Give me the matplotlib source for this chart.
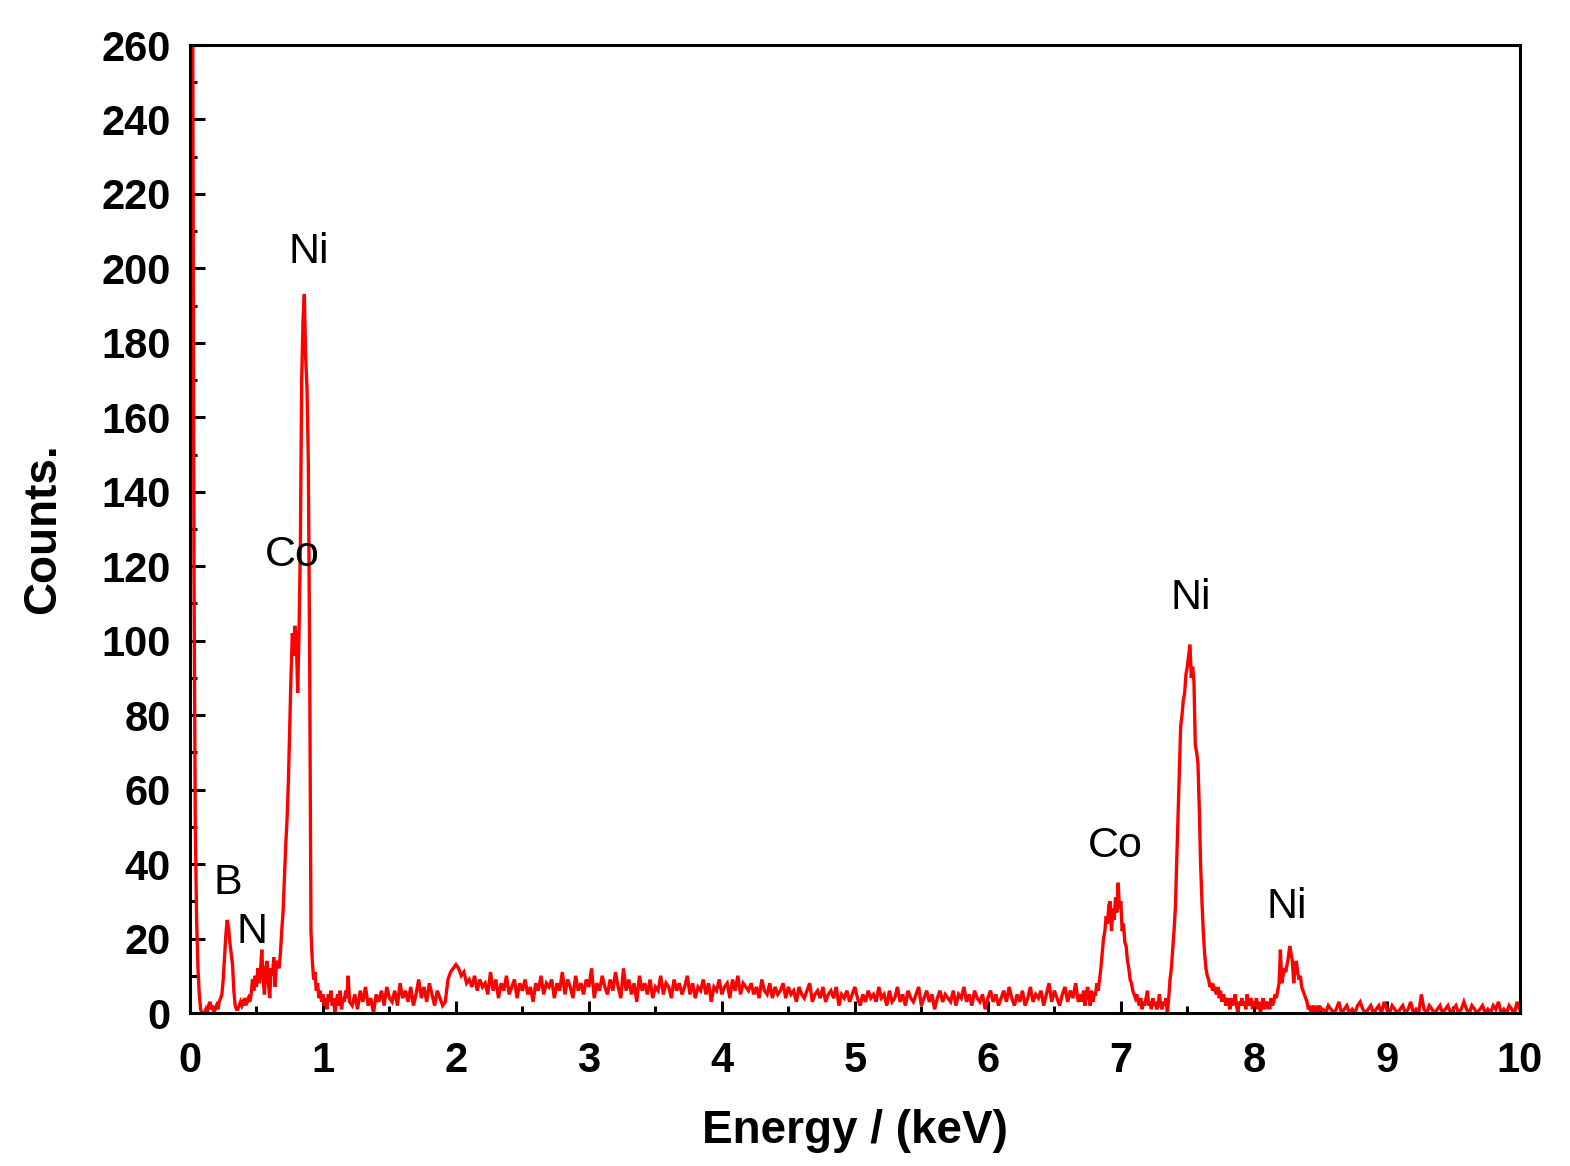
import numpy as np
import matplotlib
matplotlib.use("Agg")
import matplotlib.pyplot as plt
from matplotlib.ticker import MultipleLocator

plt.rcParams['font.family'] = ['Liberation Sans', 'DejaVu Sans']

# ---- data (energy in keV, counts) ----
# segment A: 0.00 - 1.20 keV, 0.01 keV channels
seg_a_start, seg_a_step = 0.00, 0.01
seg_a_counts = [
    300, 300, 280, 120, 50, 25, 12, 5, 1, 0,
    0, 0, 1, 0, 2, 3, 1, 2, 0, 1,
    2, 1, 3, 4, 5, 9, 15, 21, 25, 23,
    19, 16, 13, 6, 2, 1, 1, 2, 3, 2,
    3, 2, 4, 3, 4, 3, 5, 9, 6, 10,
    7, 12, 8, 11, 17, 9, 5, 12, 14, 8,
    4, 12, 10, 15, 7, 13, 14, 12, 16, 22,
    27, 36, 45, 52, 62, 76, 91, 102, 96, 104,
    100, 86, 102, 125, 170, 186, 193, 176, 168, 148,
    95, 22, 14, 9, 11, 6, 8, 4, 6, 3,
    5, 2, 4, 1, 5, 3, 6, 2, 4, 0,
    3, 5, 2, 6, 1, 4, 3, 6, 4, 10,
    3,
]
# segment B: 1.22 - 6.70 keV, 0.02 keV steps
seg_b_start, seg_b_step = 1.22, 0.02
seg_b_counts = [
    2, 5, 1, 6, 3, 7, 2, 4, 0, 5, 3, 6, 2, 7, 4, 3, 6, 2, 8, 4, 6, 3, 7, 2, 5,
    9, 4, 7, 3, 8, 5, 2, 6, 4, 2, 3, 9, 11, 12, 13, 12, 10, 11, 8, 9, 7, 10, 6, 9, 7,
    8, 5, 11, 6, 9, 4, 8, 6, 10, 5, 7, 9, 4, 8, 6, 9, 5, 7, 3, 8, 6, 10, 5, 8, 7,
    9, 4, 8, 6, 11, 5, 9, 7, 4, 10, 6, 8, 5, 9, 7, 12, 4, 8, 6, 10, 7, 5, 9, 6, 11,
    7, 4, 12, 6, 9, 5, 8, 3, 10, 6, 8, 5, 9, 4, 7, 6, 10, 5, 8, 7, 4, 9, 6, 8, 5,
    7, 10, 5, 8, 4, 7, 6, 9, 5, 8, 3, 7, 6, 9, 5, 7, 8, 4, 9, 6, 10, 5, 8, 7, 6,
    8, 5, 7, 4, 9, 6, 5, 8, 4, 7, 5, 6, 8, 4, 7, 5, 6, 3, 7, 5, 4, 6, 8, 3, 5,
    6, 4, 7, 3, 5, 6, 4, 7, 2, 5, 4, 6, 3, 5, 7, 4, 2, 5, 3, 6, 4, 5, 3, 7, 4,
    5, 2, 6, 3, 4, 7, 3, 5, 2, 6, 4, 3, 5, 7, 2, 4, 6, 3, 5, 1, 4, 6, 3, 5, 4,
    3, 6, 2, 5, 4, 7, 3, 5, 2, 6, 4, 3, 5, 1, 4, 6, 3, 5, 2, 4, 6, 3, 7, 4, 2,
    5, 3, 6, 2, 4, 7, 3, 5, 4, 6, 2, 5, 8, 3, 6, 4, 2, 5, 7, 3, 6, 4, 8, 3, 5,
]
# segment C: 6.71 - 8.50 keV, 0.01 keV channels
seg_c_start, seg_c_step = 6.71, 0.01
seg_c_counts = [
    3, 6, 2, 5, 7, 4, 2, 6, 3, 5,
    5, 8, 6, 9, 12, 16, 20, 22, 26, 24,
    29, 30, 22, 28, 25, 31, 27, 35, 28, 30,
    22, 24, 19, 18, 14, 12, 9, 8, 6, 5,
    4, 5, 3, 2, 4, 1, 3, 2, 4, 6,
    2, 3, 1, 4, 2, 3, 1, 2, 5, 2,
    1, 3, 2, 4, 0, 4, 9, 12, 17, 22,
    28, 40, 52, 65, 77, 80, 84, 86, 91, 93,
    96, 99, 90, 93, 89, 72, 70, 67, 55, 40,
    30, 22, 16, 12, 10, 9, 7, 8, 6, 7,
    6, 5, 7, 4, 6, 3, 5, 4, 2, 4,
    3, 1, 4, 2, 3, 5, 2, 0, 3, 2,
    4, 2, 3, 1, 5, 2, 3, 4, 1, 3,
    2, 4, 1, 3, 0, 2, 4, 1, 3, 2,
    3, 1, 4, 2, 3, 5, 4, 6, 8, 17,
    8, 10, 12, 11, 13, 15, 18, 16, 14, 8,
    12, 14, 11, 9, 10, 7, 6, 5, 4, 3,
    1, 2, 0, 1, 2, 0, 1, 0, 2, 1,
]
# segment D: 8.52 - 10.00 keV, 0.02 keV steps
seg_d_start, seg_d_step = 8.52, 0.02
seg_d_counts = [
    1, 0, 2, 1, 0, 1, 3, 0, 1, 2, 0, 1, 0, 2, 3, 1, 0, 1, 2, 0, 1, 2, 0, 3, 1,
    0, 2, 1, 0, 1, 2, 0, 1, 3, 0, 1, 0, 5, 1, 0, 2, 1, 0, 1, 2, 0, 1, 2, 0, 1,
    2, 0, 1, 3, 1, 0, 2, 1, 0, 1, 2, 0, 1, 0, 2, 1, 3, 0, 1, 0, 2, 1, 0, 3, 1,
]

# peak labels
peak_labels = ["B", "N", "Co", "Ni", "Co", "Ni", "Ni"]
peak_label_x = [0.286, 0.466, 0.767, 0.895, 6.955, 7.526, 8.248]
peak_label_y = [35, 21.8, 123, 204.4, 44.9, 111.5, 28.5]

x_ticks = [0, 1, 2, 3, 4, 5, 6, 7, 8, 9, 10]
y_ticks = [0, 20, 40, 60, 80, 100, 120, 140, 160, 180, 200, 220, 240, 260]


def seg(start, step, counts):
    e = start + step * np.arange(len(counts))
    return e, np.asarray(counts, dtype=float)


segs = [seg(seg_a_start, seg_a_step, seg_a_counts),
        seg(seg_b_start, seg_b_step, seg_b_counts),
        seg(seg_c_start, seg_c_step, seg_c_counts),
        seg(seg_d_start, seg_d_step, seg_d_counts)]
energy = np.concatenate([s[0] for s in segs])
counts = np.concatenate([s[1] for s in segs])

fig = plt.figure(figsize=(15.7, 11.66), dpi=100)
ax = fig.add_axes([0.121, 0.1312, 0.847, 0.8302])

ax.plot(energy, counts, color='#ff0000', lw=2.4, solid_joinstyle='miter')

ax.set_xlim(0, 10)
ax.set_ylim(0, 260)
ax.set_xticks(x_ticks)
ax.set_yticks(y_ticks)
ax.xaxis.set_minor_locator(MultipleLocator(0.5))
ax.yaxis.set_minor_locator(MultipleLocator(10))

for sp in ax.spines.values():
    sp.set_linewidth(2.2)

ax.tick_params(axis='y', which='major', direction='in', length=11, width=2.2,
               labelsize=30, pad=14)
ax.tick_params(axis='y', which='minor', direction='in', length=5, width=2.2)
ax.tick_params(axis='x', which='major', direction='in', length=9, width=2.2,
               labelsize=30, pad=20)
ax.tick_params(axis='x', which='minor', direction='in', length=5, width=2.2)
for lab in ax.get_xticklabels() + ax.get_yticklabels():
    lab.set_fontweight('bold')

ax.set_xlabel('Energy / (keV)', fontsize=33, fontweight='bold', labelpad=20)
ax.set_ylabel('Counts.', fontsize=33, fontweight='bold', labelpad=26)

for t, x, y in zip(peak_labels, peak_label_x, peak_label_y):
    ax.text(x, y, t, fontsize=31, ha='center', va='center', color='black')

fig.savefig('out.png', dpi=100, facecolor='white')
